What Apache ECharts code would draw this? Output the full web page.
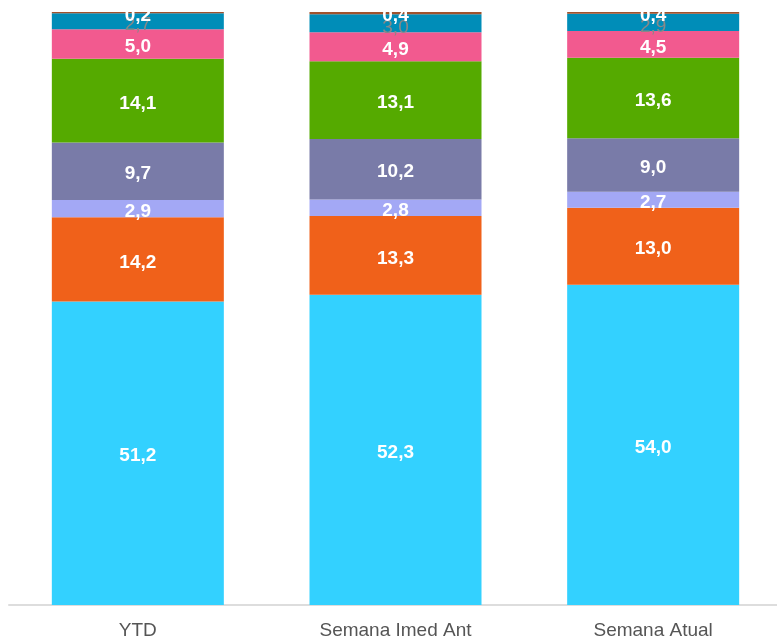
<!DOCTYPE html>
<html>
<head>
<meta charset="utf-8">
<script src="https://cdn.jsdelivr.net/npm/echarts@6/dist/echarts.min.js"></script>
<style>html,body{margin:0;padding:0;background:#fff}#c{width:777px;height:641px}</style>
</head>
<body>
<div id="c"></div>
<script>
const categories = ['YTD', 'Semana Imed Ant', 'Semana Atual'];
const s1 = [51.2, 52.3, 54.0];
const s2 = [14.2, 13.3, 13.0];
const s3 = [2.9, 2.8, 2.7];
const s4 = [9.7, 10.2, 9.0];
const s5 = [14.1, 13.1, 13.6];
const s6 = [5.0, 4.9, 4.5];
const s7 = [2.7, 3.0, 2.9];
const s8 = [0.2, 0.4, 0.4];

const seriesData = [s1, s2, s3, s4, s5, s6, s7, s8];
const colors = ['#33D1FF', '#F0611A', '#A3A8F5', '#797BA8', '#55AA00', '#F25A8F', '#008DB8', '#A0522D'];
const fmt = p => p.value.toFixed(1).replace('.', ',');

const chart = echarts.init(document.getElementById('c'));
chart.setOption({
  animation: false,
  grid: { left: 9, width: 773, top: 12, bottom: 36, outerBoundsMode: 'none', containLabel: false },
  xAxis: {
    type: 'category',
    data: categories,
    axisTick: { show: false },
    axisLine: { lineStyle: { color: '#dddddd', width: 2 } },
    axisLabel: { color: '#555555', fontSize: 19, fontFamily: 'Liberation Sans, Arial, sans-serif', margin: 16 }
  },
  yAxis: { type: 'value', min: 0, max: 100, show: false, splitLine: { show: false } },
  series: seriesData.map((d, i) => ({
    type: 'bar',
    stack: 'total',
    data: d,
    barWidth: 172,
    itemStyle: { color: colors[i] },
    label: {
      show: true,
      position: 'inside',
      formatter: fmt,
      color: i === 6 ? '#888888' : '#ffffff',
      fontWeight: i === 6 ? 'normal' : 'bold',
      fontSize: 19,
      fontFamily: 'Liberation Sans, Arial, sans-serif',
      offset: i === 6 ? [0, 4] : [0, 3]
    }
  }))
});
</script>
</body>
</html>
